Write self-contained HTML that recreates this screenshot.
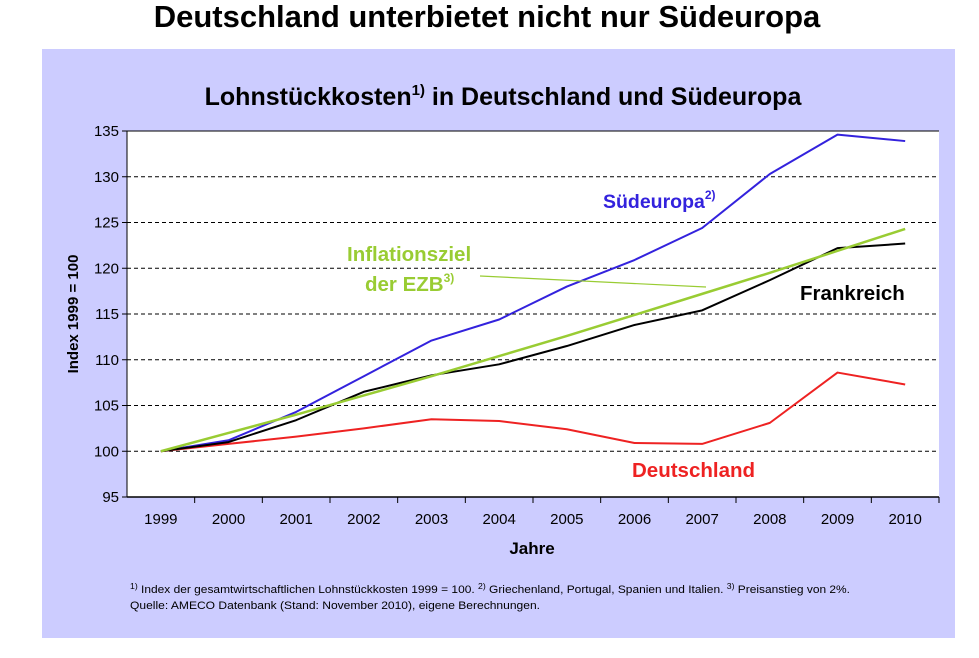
<!DOCTYPE html>
<html><head><meta charset="utf-8"><style>
body{margin:0;background:#fff;width:979px;height:653px;overflow:hidden;font-family:"Liberation Sans",sans-serif}
</style></head><body>
<svg width="979" height="653" xmlns="http://www.w3.org/2000/svg" font-family="Liberation Sans, sans-serif">
<text x="487" y="27" text-anchor="middle" font-size="31" font-weight="bold">Deutschland unterbietet nicht nur Südeuropa</text>
<rect x="42" y="49" width="913" height="589" fill="#ccccff"/>
<text x="503" y="105" text-anchor="middle" font-size="25" font-weight="bold">Lohnstückkosten<tspan font-size="15" dy="-10">1)</tspan><tspan dy="10"> in Deutschland und Südeuropa</tspan></text>
<rect x="127" y="131" width="812" height="366" fill="#fff"/>
<g id="grid"></g><g id="axes"></g><g id="series"></g>
<text transform="translate(78,314) rotate(-90)" text-anchor="middle" font-size="15" font-weight="bold">Index 1999 = 100</text>
<text x="532" y="554" text-anchor="middle" font-size="17" font-weight="bold">Jahre</text>
<text x="603" y="208" font-size="19.5" font-weight="bold" fill="#3322dd">Südeuropa<tspan font-size="12" dy="-9">2)</tspan></text>
<text x="347" y="261" font-size="20.5" font-weight="bold" fill="#99cc33">Inflationsziel</text>
<text x="365" y="291" font-size="20.5" font-weight="bold" fill="#99cc33">der EZB<tspan font-size="12" dy="-9">3)</tspan></text>
<line x1="480" y1="276" x2="706" y2="287" stroke="#99cc33" stroke-width="1.2"/>
<text x="800" y="300" font-size="20.5" font-weight="bold" fill="#000">Frankreich</text>
<text x="632" y="477" font-size="20.5" font-weight="bold" fill="#ee2222">Deutschland</text>
<text x="130" y="593" font-size="11" textLength="720" lengthAdjust="spacingAndGlyphs"><tspan font-size="8" dy="-4">1)</tspan><tspan dy="4"> Index der gesamtwirtschaftlichen Lohnstückkosten 1999 = 100. </tspan><tspan font-size="8" dy="-4">2)</tspan><tspan dy="4"> Griechenland, Portugal, Spanien und Italien. </tspan><tspan font-size="8" dy="-4">3)</tspan><tspan dy="4"> Preisanstieg von 2%.</tspan></text>
<text x="130" y="609" font-size="11" textLength="410" lengthAdjust="spacingAndGlyphs">Quelle: AMECO Datenbank (Stand: November 2010), eigene Berechnungen.</text>
</svg>
<script>
const years=[1999,2000,2001,2002,2003,2004,2005,2006,2007,2008,2009,2010];
const yTicks=[95,100,105,110,115,120,125,130,135];
const suedeuropa=[100,101.2,104.3,108.2,112.1,114.4,118,120.9,124.4,130.3,134.6,133.9];
const frankreich=[100,101,103.4,106.5,108.3,109.5,111.5,113.8,115.4,118.7,122.2,122.7];
const ezb=[100,102,104.0,106.1,108.2,110.4,112.6,114.9,117.2,119.5,121.9,124.3];
const deutschland=[100,100.8,101.6,102.5,103.5,103.3,102.4,100.9,100.8,103.1,108.6,107.3];
const NS="http://www.w3.org/2000/svg";
const L=127,R=939,T=131,B=497,ymin=95,ymax=135;
const step=(R-L)/years.length;
function xs(i){return L+step*(i+0.5);}
function ys(v){return B-(v-ymin)/(ymax-ymin)*(B-T);}
function mk(tag,a,p){const e=document.createElementNS(NS,tag);for(const k in a)e.setAttribute(k,a[k]);p.appendChild(e);return e;}
const grid=document.getElementById('grid'),axes=document.getElementById('axes'),ser=document.getElementById('series');
yTicks.forEach(v=>{
  if(v!==ymin&&v!==ymax){const g=mk('line',{x1:L,x2:R,y1:ys(v),y2:ys(v),stroke:'#000','stroke-dasharray':'4,3','stroke-width':1},grid);
  
  }
  const t=mk('line',{x1:L-5,x2:L,y1:ys(v),y2:ys(v),stroke:'#000'},axes);
  
  
  const l=mk('text',{x:L-8,y:ys(v)+5,'text-anchor':'end','font-size':15},axes);l.textContent=v;
  
  
});
const ta=mk('line',{x1:L,x2:R,y1:T,y2:T,stroke:'#000'},axes);


const ya=mk('line',{x1:L,x2:L,y1:T,y2:B,stroke:'#000'},axes);


const xa=mk('line',{x1:L,x2:R,y1:B,y2:B,stroke:'#000','stroke-width':1.5},axes);


years.forEach((y,i)=>{
  const t=mk('line',{x1:L+step*(i+1),x2:L+step*(i+1),y1:B,y2:B+6,stroke:'#000'},axes);
  
  
  const l=mk('text',{x:xs(i),y:B+27,'text-anchor':'middle','font-size':15},axes);l.textContent=y;
  
  
});
function line(data,color,w,name){
  const p=mk('polyline',{points:data.map((v,i)=>xs(i)+','+ys(v)).join(' '),fill:'none',stroke:color,'stroke-width':w,'stroke-linejoin':'round'},ser);
  
  
}
line(deutschland,'#ee2222',2,'line-deutschland');
line(suedeuropa,'#3322dd',2,'line-suedeuropa');
line(frankreich,'#000000',2,'line-frankreich');
line(ezb,'#99cc33',2.5,'line-ezb');
</script>
</body></html>
